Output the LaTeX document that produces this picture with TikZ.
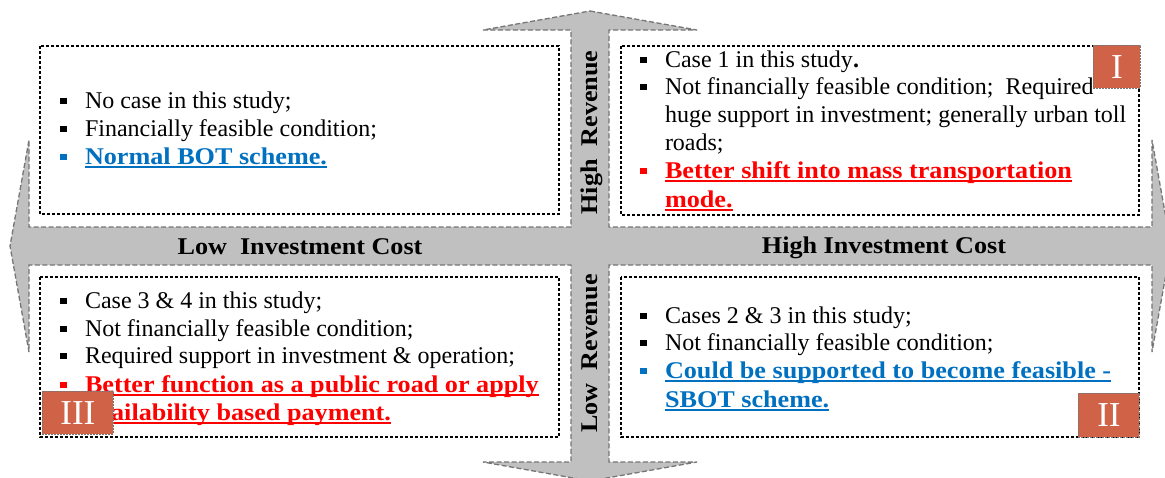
\documentclass[tikz,border=0pt]{standalone}
\usepackage{fontspec}
\setmainfont{Liberation Serif}
\newfontfamily\bwfont{Liberation Serif}[FakeStretch=1.09]
\usepackage{xcolor}
\definecolor{arrowfill}{RGB}{192,192,192}
\definecolor{arrowline}{RGB}{118,118,118}
\definecolor{ublue}{RGB}{0,112,192}
\definecolor{ured}{RGB}{255,0,0}
\definecolor{tagfill}{RGB}{208,98,72}
\newcommand\sqb[1]{\makebox[25pt][l]{\textcolor{#1}{\rule[4pt]{6.5pt}{6.5pt}}}}
\newcommand\ulx[1]{\setbox0\hbox{#1}\rlap{\rule[-3.5pt]{\wd0}{1.5pt}}\box0}
\tikzset{
  txtline/.style={anchor=base west, inner sep=0pt, outer sep=0pt, font=\fontsize{24}{28}\selectfont},
  boldline/.style={txtline, font=\fontsize{24}{28}\selectfont\bwfont\bfseries},
  qbox/.style={draw=black, dash pattern=on 3pt off 2pt, line width=1.1pt},
  tagbox/.style={fill=tagfill, draw=arrowline, dash pattern=on 2pt off 1pt, line width=0.8pt, inner sep=0pt, anchor=north west, text=white, font=\fontsize{35}{40}\selectfont},
  axislabel/.style={font=\fontsize{24}{28}\selectfont\bwfont\bfseries, inner sep=0pt, anchor=base},
  quadarrow/.style={fill=arrowfill, draw=arrowline, dash pattern=on 5pt off 2.5pt, line width=1.3pt, line join=miter},
}
\begin{document}
\begin{tikzpicture}[x=1pt,y=-1pt]
\useasboundingbox (0,0) rectangle (1165,477);
\fill[white] (0,0) rectangle (1165,477);
% four-way arrow
\draw[quadarrow] (590,11) -- (697,30) -- (609,30) -- (609,227) -- (1152,227) -- (1152,140)
  -- (1171,246) -- (1152,352) -- (1152,265) -- (609,265) -- (609,462) -- (697,462)
  -- (590,481) -- (483,462) -- (571,462) -- (571,265) -- (29,265) -- (29,352)
  -- (10,246) -- (29,140) -- (29,227) -- (571,227) -- (571,30) -- (483,30) -- cycle;
% quadrant boxes
\draw[qbox] (40,46) rectangle (559,214);
\draw[qbox] (621,46) rectangle (1139,215);
\draw[qbox] (40,277) rectangle (559,437);
\draw[qbox] (621,277) rectangle (1139,437);
% axis labels
\node[axislabel] (lic) at (300,254) {Low\ \ Investment Cost};
\node[axislabel] (hic) at (884,253) {High Investment Cost};
\node[axislabel, rotate=90] (hrev) at (597,132.5) {High\ \ Revenue};
\node[axislabel, rotate=90] (lrev) at (597,353.5) {Low\ \ Revenue};
% top-left
\node[txtline] (tl1) at (60,108) {\sqb{black}No case in this study;};
\node[txtline] (tl2) at (60,136) {\sqb{black}Financially feasible condition;};
\node[boldline, text=ublue] (tl3) at (60,164) {\sqb{ublue}\ulx{Normal BOT scheme.}};
% top-right
\node[txtline] (tr1) at (640,67) {\sqb{black}Case 1 in this study\textbf{.}};
\node[txtline] (tr2) at (640,94) {\sqb{black}Not financially feasible condition;\ \ Required};
\node[txtline] (tr3) at (665,122) {huge support in investment; generally urban toll};
\node[txtline] (tr4) at (665,150) {roads;};
\node[boldline, text=ured] (tr5) at (640,178) {\sqb{ured}\ulx{Better shift into mass transportation}};
\node[boldline, text=ured] (tr6) at (665,207) {\ulx{mode.}};
% bottom-left
\node[txtline] (bl1) at (60,308) {\sqb{black}Case 3 \& 4 in this study;};
\node[txtline] (bl2) at (60,336) {\sqb{black}Not financially feasible condition;};
\node[txtline] (bl3) at (60,363) {\sqb{black}Required support in investment \& operation;};
\node[boldline, text=ured] (bl4) at (60,392) {\sqb{ured}\ulx{Better function as a public road or apply}};
\node[boldline, text=ured] (bl5) at (85,420) {\ulx{availability based payment.}};
% bottom-right
\node[txtline] (br1) at (640,323) {\sqb{black}Cases 2 \& 3 in this study;};
\node[txtline] (br2) at (640,350) {\sqb{black}Not financially feasible condition;};
\node[boldline, text=ublue] (br3) at (640,378) {\sqb{ublue}\ulx{Could be supported to become feasible -}};
\node[boldline, text=ublue] (br4) at (665,407) {\ulx{SBOT scheme.}};
% quadrant tags
\node[tagbox, minimum width=47pt, minimum height=43pt] (tagI) at (1093,45) {I};
\node[tagbox, minimum width=61pt, minimum height=44pt] (tagII) at (1078,393) {II};
\node[tagbox, minimum width=71pt, minimum height=43pt] (tagIII) at (42,391) {III};
\end{tikzpicture}
\end{document}
